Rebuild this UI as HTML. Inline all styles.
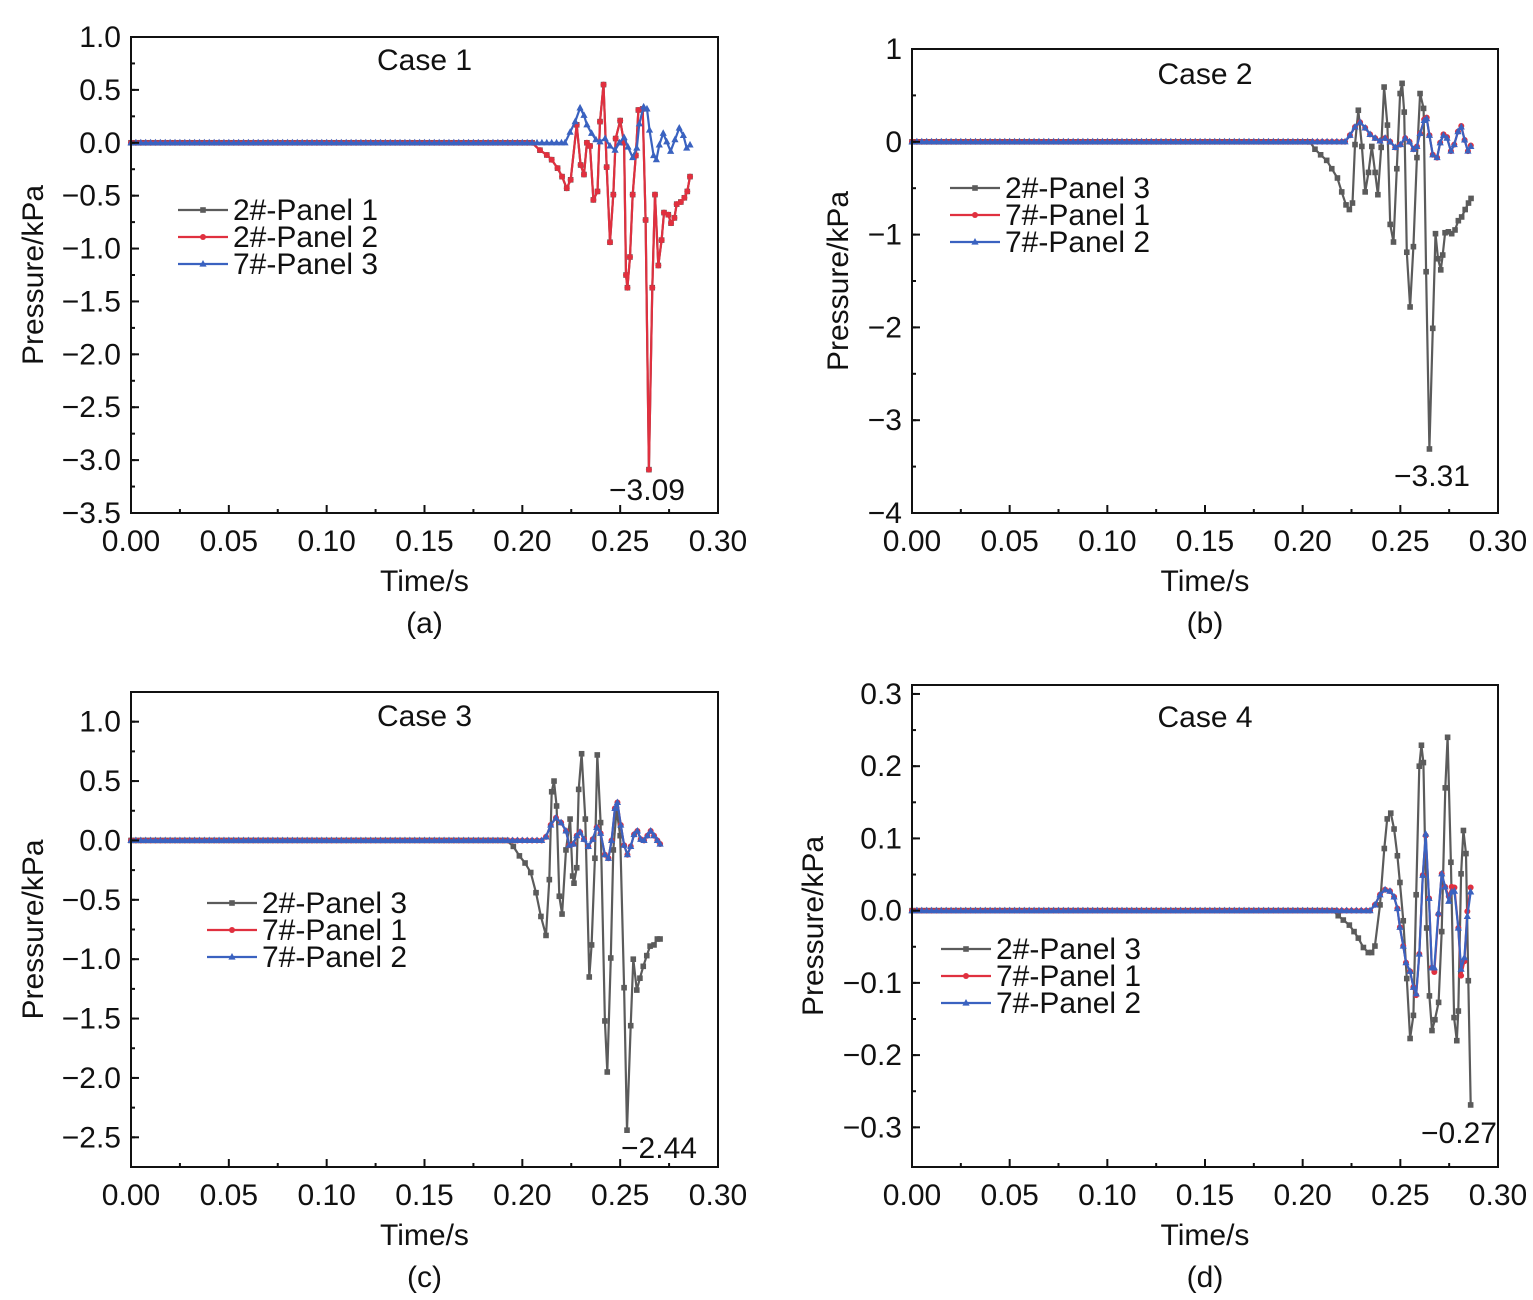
<!DOCTYPE html>
<html><head><meta charset="utf-8"><style>
html,body{margin:0;padding:0;background:#fff;}
svg{display:block;font-family:"Liberation Sans",Arial,sans-serif;}
</style></head><body>
<svg id="fig" width="1533" height="1300" viewBox="0 0 1533 1300" xmlns="http://www.w3.org/2000/svg"></svg>
<script>
// ---------- data ----------
const xTicks = [0,0.05,0.10,0.15,0.20,0.25,0.30];
const xTickLabels = ["0.00","0.05","0.10","0.15","0.20","0.25","0.30"];
const aTicks = [1.0,0.5,0,-0.5,-1.0,-1.5,-2.0,-2.5,-3.0,-3.5];
const aTickLabels = ["1.0","0.5","0.0","\u22120.5","\u22121.0","\u22121.5","\u22122.0","\u22122.5","\u22123.0","\u22123.5"];
const bTicks = [1,0,-1,-2,-3,-4];
const bTickLabels = ["1","0","\u22121","\u22122","\u22123","\u22124"];
const cTicks = [1.0,0.5,0,-0.5,-1.0,-1.5,-2.0,-2.5];
const cTickLabels = ["1.0","0.5","0.0","\u22120.5","\u22121.0","\u22121.5","\u22122.0","\u22122.5"];
const dTicks = [0.3,0.2,0.1,0,-0.1,-0.2,-0.3];
const dTickLabels = ["0.3","0.2","0.1","0.0","\u22120.1","\u22120.2","\u22120.3"];

const aRed = [[0.205,0],[0.209,-0.07],[0.2125,-0.115],[0.215,-0.16],[0.218,-0.24],[0.2203,-0.32],[0.2227,-0.43],[0.2247,-0.35],[0.2278,0.17],[0.2298,-0.21],[0.2315,-0.30],[0.233,0],[0.2346,-0.03],[0.2363,-0.54],[0.2384,-0.46],[0.2397,0.2],[0.2415,0.55],[0.2431,-0.23],[0.2448,-0.94],[0.2465,-0.49],[0.2477,0.04],[0.25,0.21],[0.252,0],[0.253,-1.25],[0.2537,-1.37],[0.255,-1.08],[0.2564,-0.49],[0.258,-0.12],[0.2593,0.31],[0.2615,0.32],[0.263,-0.73],[0.2647,-3.09],[0.2664,-1.37],[0.2678,-0.49],[0.2695,-1.16],[0.2712,-0.92],[0.2724,-0.66],[0.2746,-0.68],[0.276,-0.76],[0.2777,-0.71],[0.2789,-0.58],[0.281,-0.56],[0.2828,-0.52],[0.2843,-0.46],[0.2857,-0.32]];
const aGray = [[0.205,0],[0.209,-0.07],[0.2125,-0.115],[0.215,-0.16],[0.218,-0.24],[0.2203,-0.32],[0.2227,-0.43],[0.2247,-0.35],[0.2278,0.17],[0.2298,-0.21],[0.2315,-0.30],[0.233,0],[0.2346,-0.03],[0.2363,-0.54],[0.2384,-0.46],[0.2397,0.2],[0.2415,0.55],[0.2431,-0.23],[0.2448,-0.94],[0.2465,-0.49],[0.2477,0.04],[0.25,0.21],[0.252,0],[0.253,-1.25],[0.2537,-1.37],[0.255,-1.08],[0.2564,-0.49],[0.258,-0.12],[0.2593,0.31],[0.2615,0.32],[0.263,-0.73],[0.2647,-3.09],[0.2664,-1.37],[0.2678,-0.49],[0.2695,-1.16],[0.2712,-0.92],[0.2724,-0.66],[0.2746,-0.68],[0.276,-0.76],[0.2777,-0.71],[0.2789,-0.58],[0.281,-0.56],[0.2828,-0.52],[0.2843,-0.46],[0.2857,-0.32]];
const aBlue = [[0.2218,0],[0.2244,0.1],[0.227,0.2],[0.2295,0.33],[0.2315,0.26],[0.233,0.17],[0.2354,0.09],[0.2376,0.03],[0.2397,0.01],[0.2423,0.04],[0.2448,-0.03],[0.2474,-0.07],[0.2496,0],[0.252,0.05],[0.254,-0.04],[0.2564,-0.14],[0.2585,-0.05],[0.2598,0.18],[0.262,0.34],[0.2637,0.32],[0.265,0.12],[0.2671,-0.12],[0.2685,-0.16],[0.27,-0.02],[0.272,0.09],[0.2738,0.01],[0.2758,-0.08],[0.278,0.03],[0.2802,0.14],[0.2823,0.07],[0.284,-0.05],[0.2857,-0.02]];

const bGray = [[0.2037,0],[0.2063,-0.08],[0.2092,-0.14],[0.2123,-0.2],[0.2149,-0.29],[0.2178,-0.39],[0.22,-0.54],[0.2222,-0.68],[0.2239,-0.73],[0.2255,-0.66],[0.2268,-0.03],[0.2285,0.34],[0.2303,-0.05],[0.232,-0.54],[0.2337,-0.33],[0.2354,-0.05],[0.2371,-0.33],[0.2385,-0.57],[0.2402,-0.06],[0.2417,0.59],[0.2434,0.18],[0.2448,-0.89],[0.2465,-1.08],[0.2482,-0.29],[0.2499,0.52],[0.2509,0.63],[0.252,0.32],[0.2533,-1.19],[0.255,-1.78],[0.2567,-1.13],[0.2585,-0.17],[0.2601,0.52],[0.2619,0.36],[0.2632,-1.4],[0.2649,-3.31],[0.2666,-2.01],[0.268,-0.99],[0.2693,-1.26],[0.2707,-1.38],[0.2717,-1.22],[0.2729,-0.98],[0.2746,-0.97],[0.2763,-0.99],[0.278,-0.95],[0.2797,-0.85],[0.2814,-0.81],[0.2832,-0.73],[0.2849,-0.66],[0.2862,-0.61]];
const bRed = [[0.2217,0],[0.2242,0.07],[0.2268,0.16],[0.2294,0.21],[0.232,0.15],[0.2345,0.08],[0.2371,0.04],[0.2396,0.01],[0.2422,0.04],[0.2448,0],[0.2474,-0.06],[0.25,-0.03],[0.2525,0.04],[0.2547,0],[0.2568,-0.08],[0.2585,-0.05],[0.2601,0.09],[0.2622,0.24],[0.2635,0.26],[0.2649,0.07],[0.2666,-0.14],[0.2688,-0.17],[0.2704,-0.01],[0.2721,0.08],[0.2739,0.05],[0.2759,-0.1],[0.2776,-0.03],[0.2795,0.11],[0.2812,0.17],[0.2829,0.02],[0.2846,-0.1],[0.2861,-0.04]];
const bBlue = [[0.2217,0],[0.2242,0.07],[0.2268,0.16],[0.2294,0.21],[0.232,0.15],[0.2345,0.08],[0.2371,0.04],[0.2396,0.01],[0.2422,0.04],[0.2448,0],[0.2474,-0.06],[0.25,-0.03],[0.2525,0.04],[0.2547,0],[0.2568,-0.08],[0.2585,-0.05],[0.2601,0.09],[0.2622,0.23],[0.2635,0.25],[0.2649,0.07],[0.2666,-0.14],[0.2688,-0.17],[0.2704,-0.01],[0.2721,0.07],[0.2739,0.04],[0.2759,-0.1],[0.2776,-0.03],[0.2795,0.11],[0.2812,0.16],[0.2829,0.02],[0.2846,-0.1],[0.2861,-0.05]];

const cGray = [[0.192,0],[0.1954,-0.05],[0.1985,-0.13],[0.2014,-0.19],[0.2043,-0.27],[0.207,-0.44],[0.2095,-0.64],[0.2121,-0.8],[0.2138,-0.33],[0.215,0.41],[0.2162,0.5],[0.2175,0.29],[0.2189,-0.47],[0.2203,-0.62],[0.2223,-0.08],[0.2244,0.18],[0.2257,-0.3],[0.2264,-0.36],[0.2278,-0.23],[0.2288,0.43],[0.2303,0.73],[0.2322,0.18],[0.2342,-1.15],[0.2354,-0.88],[0.2371,-0.15],[0.2383,0.72],[0.24,0.15],[0.2422,-1.52],[0.2434,-1.95],[0.2452,-0.99],[0.2465,-0.08],[0.2482,0.26],[0.25,0.04],[0.252,-1.24],[0.2535,-2.44],[0.2554,-1.56],[0.2567,-1.0],[0.2585,-1.26],[0.2601,-1.16],[0.2618,-1.06],[0.2636,-0.97],[0.2653,-0.89],[0.2673,-0.88],[0.269,-0.83],[0.2704,-0.83]];
const cRed = [[0.2099,0],[0.2121,0.03],[0.2145,0.13],[0.2172,0.19],[0.2198,0.15],[0.2223,0.08],[0.224,-0.04],[0.2261,-0.03],[0.2278,0.04],[0.2295,0.07],[0.2315,0.01],[0.2337,-0.05],[0.236,0.01],[0.238,0.11],[0.24,0.06],[0.2422,-0.12],[0.244,-0.15],[0.2456,0],[0.2473,0.27],[0.2486,0.32],[0.2503,0.13],[0.252,-0.04],[0.2537,-0.12],[0.2554,-0.05],[0.2571,0.05],[0.2588,0.08],[0.2605,0.01],[0.2622,0],[0.2639,0.04],[0.2656,0.08],[0.2673,0.04],[0.269,0],[0.2704,-0.03]];
const cBlue = [[0.2099,0],[0.2121,0.03],[0.2145,0.13],[0.2172,0.19],[0.2198,0.15],[0.2223,0.08],[0.224,-0.04],[0.2261,-0.03],[0.2278,0.04],[0.2295,0.07],[0.2315,0.01],[0.2337,-0.05],[0.236,0.01],[0.238,0.11],[0.24,0.06],[0.2422,-0.12],[0.244,-0.15],[0.2456,0],[0.2473,0.27],[0.2486,0.32],[0.2503,0.13],[0.252,-0.04],[0.2537,-0.12],[0.2554,-0.05],[0.2571,0.05],[0.2588,0.08],[0.2605,0.01],[0.2622,0],[0.2639,0.04],[0.2656,0.08],[0.2673,0.04],[0.269,0],[0.2704,-0.03]];

const dGray = [[0.2157,0],[0.2182,-0.007],[0.2208,-0.013],[0.2239,-0.02],[0.2263,-0.029],[0.2285,-0.038],[0.2311,-0.051],[0.2336,-0.058],[0.2353,-0.058],[0.237,-0.049],[0.2396,0.008],[0.2418,0.086],[0.2433,0.127],[0.2451,0.135],[0.2468,0.113],[0.2485,0.076],[0.2498,0.039],[0.2515,-0.014],[0.2533,-0.094],[0.255,-0.177],[0.2567,-0.145],[0.2581,0.022],[0.2597,0.2],[0.2608,0.229],[0.2618,0.205],[0.2635,-0.024],[0.2649,-0.118],[0.2662,-0.166],[0.2677,-0.151],[0.2696,-0.127],[0.2712,-0.029],[0.273,0.17],[0.2742,0.24],[0.2759,0.067],[0.2775,-0.148],[0.2789,-0.18],[0.2797,-0.139],[0.2811,0.051],[0.2823,0.111],[0.2836,0.079],[0.2848,-0.097],[0.286,-0.269]];
const dRed = [[0.2345,0],[0.237,0.008],[0.2396,0.022],[0.2422,0.029],[0.2447,0.027],[0.2468,0.019],[0.2485,0.003],[0.2498,-0.023],[0.2515,-0.049],[0.2529,-0.072],[0.255,-0.084],[0.2567,-0.106],[0.2581,-0.117],[0.2597,-0.06],[0.2615,0.049],[0.263,0.104],[0.2647,0.017],[0.2661,-0.079],[0.2674,-0.085],[0.2695,-0.005],[0.2712,0.051],[0.2729,0.033],[0.2748,0.02],[0.2763,0.033],[0.2777,0.032],[0.2797,-0.024],[0.2811,-0.09],[0.2828,-0.07],[0.2843,-0.001],[0.286,0.032]];
const dBlue = [[0.2345,0],[0.237,0.008],[0.2396,0.022],[0.2422,0.029],[0.2447,0.027],[0.2468,0.019],[0.2485,0.003],[0.2498,-0.023],[0.2515,-0.049],[0.2529,-0.072],[0.255,-0.084],[0.2567,-0.106],[0.2581,-0.115],[0.2597,-0.06],[0.2615,0.049],[0.263,0.106],[0.2647,0.017],[0.2661,-0.079],[0.2674,-0.079],[0.2695,-0.003],[0.2712,0.051],[0.2729,0.033],[0.2748,0.013],[0.2763,0.026],[0.2777,0.027],[0.2797,-0.024],[0.2811,-0.081],[0.2828,-0.065],[0.2843,-0.008],[0.286,0.026]];

// ---------- drawing ----------
const NS = "http://www.w3.org/2000/svg";
const svg = document.getElementById("fig");
const GRAY="#5b5b5b", RED="#e0303f", BLUE="#3a62c0";
const FS = 30;
function mk(tag, attrs, parent){
  const e = document.createElementNS(NS, tag);
  for (const k in attrs) e.setAttribute(k, attrs[k]);
  (parent||svg).appendChild(e);
  return e;
}
function txt(str, x, y, size, anchor, parent){
  const t = mk("text", {x:x, y:y, "font-size":size, "text-anchor":anchor||"middle", fill:"#111"}, parent);
  t.textContent = str;
  return t;
}
function withBaseline(series){
  const start = series[0][0];
  const pts = [];
  for (let i = 0; i * 0.0025 < start - 0.001; i++) pts.push([i * 0.0025, 0]);
  return pts.concat(series);
}
function marker(g, kind, x, y, color){
  let m;
  if (kind === "sq") m = mk("rect", {x:x-2.8, y:y-2.8, width:5.6, height:5.6, fill:color}, g);
  else if (kind === "ci") m = mk("circle", {cx:x, cy:y, r:3, fill:color}, g);
  else m = mk("polygon", {points:`${x},${y-4} ${x-3.6},${y+2.6} ${x+3.6},${y+2.6}`, fill:color}, g);
  
  
}
function panel(p){
  const g = mk("g", {});
  
  
  const X = t => p.x0 + (t - 0) / 0.30 * (p.x1 - p.x0);
  const Y = v => p.y1 - (v - p.ymin) / (p.ymax - p.ymin) * (p.y1 - p.y0);
  p.series.forEach(s => {
    const sg = mk("g", {}, g);
    
    
    const pts = withBaseline(s.data);
    mk("polyline", {points: pts.map(q => X(q[0]).toFixed(1)+","+Y(q[1]).toFixed(1)).join(" "), fill:"none", stroke:s.color, "stroke-width":2.2, "stroke-linejoin":"round"}, sg);
    pts.forEach(q => marker(sg, s.mark, X(q[0]), Y(q[1]), s.color));
  });
  const fr = mk("rect", {x:p.x0, y:p.y0, width:p.x1-p.x0, height:p.y1-p.y0, fill:"none", stroke:"#111", "stroke-width":2}, g);
  
  
  xTicks.forEach((t, i) => {
    const x = X(t);
    mk("line", {x1:x, x2:x, y1:p.y1, y2:p.y1-8, stroke:"#111", "stroke-width":2}, g);
    const l = txt(xTickLabels[i], x, p.y1+38, FS, "middle", g);
    
    
    if (i < xTicks.length - 1) { const xm = X(t + 0.025); mk("line", {x1:xm, x2:xm, y1:p.y1, y2:p.y1-4, stroke:"#111", "stroke-width":2}, g); }
  });
  p.yTicks.forEach((v, i) => {
    const y = Y(v);
    mk("line", {x1:p.x0, x2:p.x0+8, y1:y, y2:y, stroke:"#111", "stroke-width":2}, g);
    const l = txt(p.yLabels[i], p.x0-10, y+10, FS, "end", g);
    
    
  });
  for (let v = p.yTicks[p.yTicks.length-1]; v < p.ymax + 1e-9; v += p.minor) {
    const y = Y(v);
    if (y < p.y0 - 0.5 || y > p.y1 + 0.5) continue;
    mk("line", {x1:p.x0, x2:p.x0+4, y1:y, y2:y, stroke:"#111", "stroke-width":2}, g);
  }
  const cx = (p.x0 + p.x1) / 2;
  let t = txt(p.title, cx, p.y0 + p.titleDy, FS, "middle", g);
   
  t = txt("Time/s", cx, p.y1 + 78, FS, "middle", g);
   
  t = txt(p.sub, cx, p.y1 + 120, FS, "middle", g);
   
  t = txt("Pressure/kPa", 0, 0, FS, "middle", g);
  t.setAttribute("transform", `translate(${p.ylabX},${(p.y0+p.y1)/2}) rotate(-90)`);
   
  t = txt(p.annot, p.annX, p.annY, FS, "middle", g);
   
  const lg = mk("g", {}, g);
  
  
  p.legendOrder.forEach((s, i) => {
    const y = p.legY + i * 27;
    const e = mk("g", {}, lg);
    
    
    mk("line", {x1:p.legX, x2:p.legX+50, y1:y, y2:y, stroke:s.color, "stroke-width":2.2}, e);
    marker(e, s.mark, p.legX+25, y, s.color);
    txt(s.name, p.legX+55, y+10, FS, "start", e);
  });
}
const sA = [{name:"2#-Panel 1",color:GRAY,mark:"sq",data:aGray},{name:"2#-Panel 2",color:RED,mark:"ci",data:aRed},{name:"7#-Panel 3",color:BLUE,mark:"tr",data:aBlue}];
const sB = [{name:"2#-Panel 3",color:GRAY,mark:"sq",data:bGray},{name:"7#-Panel 1",color:RED,mark:"ci",data:bRed},{name:"7#-Panel 2",color:BLUE,mark:"tr",data:bBlue}];
const sC = [{name:"2#-Panel 3",color:GRAY,mark:"sq",data:cGray},{name:"7#-Panel 1",color:RED,mark:"ci",data:cRed},{name:"7#-Panel 2",color:BLUE,mark:"tr",data:cBlue}];
const sD = [{name:"2#-Panel 3",color:GRAY,mark:"sq",data:dGray},{name:"7#-Panel 1",color:RED,mark:"ci",data:dRed},{name:"7#-Panel 2",color:BLUE,mark:"tr",data:dBlue}];
panel({id:"a",x0:131,x1:718,y0:37,y1:513,ymin:-3.5,ymax:1.0,yTicks:aTicks,yLabels:aTickLabels,minor:0.25,title:"Case 1",titleDy:33,sub:"(a)",ylabX:43,annot:"\u22123.09",annX:647,annY:500,legX:178,legY:210,series:[sA[0],sA[1],sA[2]],legendOrder:sA});
panel({id:"b",x0:912,x1:1498,y0:49,y1:513,ymin:-4,ymax:1,yTicks:bTicks,yLabels:bTickLabels,minor:0.5,title:"Case 2",titleDy:35,sub:"(b)",ylabX:848,annot:"\u22123.31",annX:1432,annY:486,legX:950,legY:188,series:[sB[0],sB[1],sB[2]],legendOrder:sB});
panel({id:"c",x0:131,x1:718,y0:692,y1:1167,ymin:-2.75,ymax:1.25,yTicks:cTicks,yLabels:cTickLabels,minor:0.25,title:"Case 3",titleDy:34,sub:"(c)",ylabX:43,annot:"\u22122.44",annX:659,annY:1158,legX:207,legY:903,series:[sC[0],sC[1],sC[2]],legendOrder:sC});
panel({id:"d",x0:912,x1:1498,y0:685,y1:1167,ymin:-0.3549,ymax:0.3124,yTicks:dTicks,yLabels:dTickLabels,minor:0.05,title:"Case 4",titleDy:42,sub:"(d)",ylabX:823,annot:"\u22120.27",annX:1459,annY:1143,legX:941,legY:949,series:[sD[0],sD[1],sD[2]],legendOrder:sD});
</script>
</body></html>
